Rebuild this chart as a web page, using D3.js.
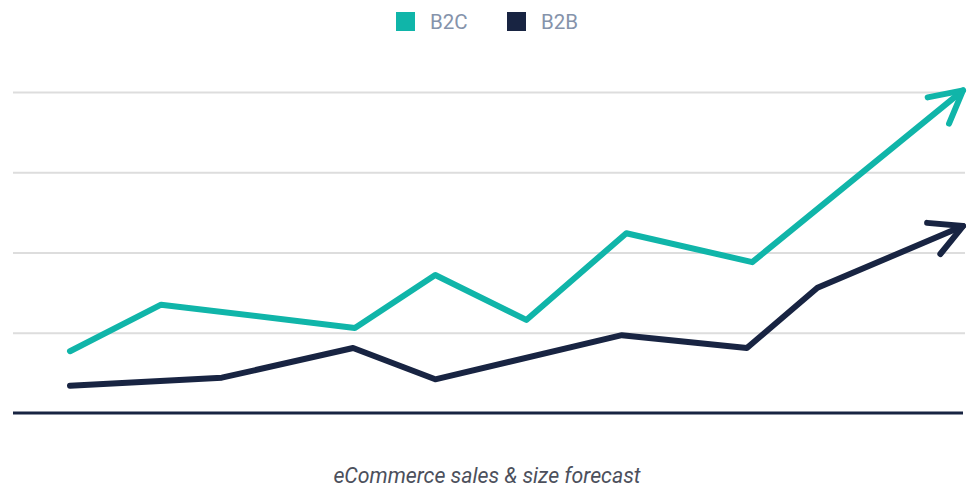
<!DOCTYPE html>
<html>
<head>
<meta charset="utf-8">
<script src="https://cdn.jsdelivr.net/npm/d3@7/dist/d3.min.js"></script>
<style>
  html, body { margin: 0; padding: 0; background: #fff; }
  svg { display: block; font-family: Roboto, "Noto Sans", sans-serif; }
</style>
</head>
<body>
<svg id="chart" width="970" height="488"></svg>
<script>
// Series definitions: position along the forecast timeline (0–100) and index value
const seriesNames = ["B2C", "B2B"];
const seriesColors = ["#10b5a9", "#182442"];

const b2cX = [0, 10.2, 31.9, 40.9, 51.1, 62.3, 76.4, 100];
const b2cY = [0.77, 1.35, 1.06, 1.72, 1.16, 2.24, 1.88, 4.02];

const b2bX = [0, 17.0, 31.7, 40.9, 61.8, 75.8, 83.7, 100];
const b2bY = [0.34, 0.44, 0.81, 0.42, 0.97, 0.81, 1.56, 2.33];

const gridTicks = [1, 2, 3, 4];
const caption = "eCommerce sales & size forecast";

const svg = d3.select("#chart");

const x = d3.scaleLinear().domain([0, 100]).range([70, 963]);
const y = d3.scaleLinear().domain([0, 4]).range([413, 92]);

// Horizontal gridlines
const yAxis = d3.axisLeft(y).tickValues(gridTicks).tickSize(-952).tickFormat("");
const gAxis = svg.append("g").attr("transform", "translate(13,0)").call(yAxis);
gAxis.select(".domain").remove();
gAxis.selectAll(".tick line").attr("stroke", "#dddddd").attr("stroke-width", 2);

// Baseline
svg.append("line")
  .attr("x1", 13).attr("x2", 963)
  .attr("y1", y(0)).attr("y2", y(0))
  .attr("stroke", "#182442").attr("stroke-width", 3);

const line = d3.line().x(d => x(d[0])).y(d => y(d[1]));

function drawSeries(xs, ys, color) {
  const pts = xs.map((v, i) => [v, ys[i]]);
  svg.append("path")
    .datum(pts)
    .attr("d", line)
    .attr("fill", "none")
    .attr("stroke", color)
    .attr("stroke-width", 6)
    .attr("stroke-linecap", "round")
    .attr("stroke-linejoin", "round");

  // Open arrowhead aligned with the last segment
  const n = pts.length;
  const tx = x(pts[n - 1][0]), ty = y(pts[n - 1][1]);
  const px = x(pts[n - 2][0]), py = y(pts[n - 2][1]);
  const back = Math.atan2(py - ty, px - tx);
  const spread = 28 * Math.PI / 180, len = 36;
  const a1 = [tx + len * Math.cos(back + spread), ty + len * Math.sin(back + spread)];
  const a2 = [tx + len * Math.cos(back - spread), ty + len * Math.sin(back - spread)];
  svg.append("path")
    .attr("d", d3.line()([a1, [tx, ty], a2]))
    .attr("fill", "none")
    .attr("stroke", color)
    .attr("stroke-width", 6)
    .attr("stroke-linecap", "round")
    .attr("stroke-linejoin", "round");
}

drawSeries(b2cX, b2cY, seriesColors[0]);
drawSeries(b2bX, b2bY, seriesColors[1]);

// Legend
const legendX = [396, 507];
const legend = svg.append("g");
seriesNames.forEach((name, i) => {
  legend.append("rect")
    .attr("x", legendX[i]).attr("y", 12)
    .attr("width", 19).attr("height", 19)
    .attr("fill", seriesColors[i]);
  legend.append("text")
    .attr("x", legendX[i] + 34).attr("y", 28.5)
    .attr("font-size", 20.5)
    .attr("fill", "#8593ab")
    .text(name);
});

// Caption
svg.append("text")
  .attr("x", 487).attr("y", 483)
  .attr("text-anchor", "middle")
  .attr("font-size", 21.3)
  .attr("font-style", "italic")
  .attr("fill", "#4c505c")
  .text(caption);
</script>
</body>
</html>
